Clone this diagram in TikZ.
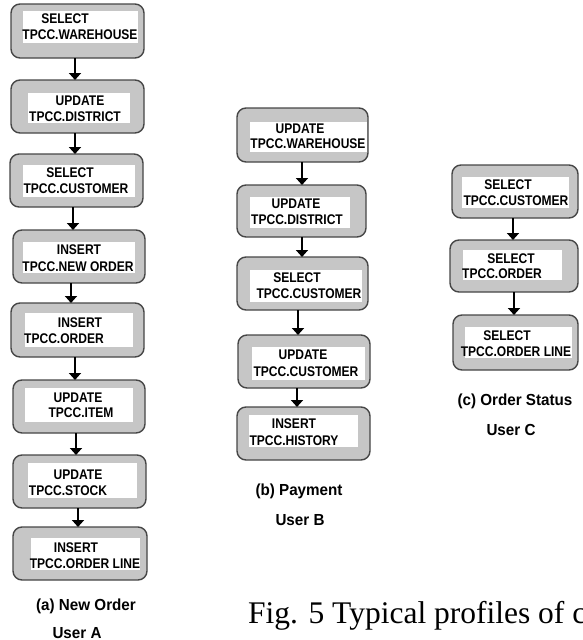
\documentclass[tikz,border=0pt]{standalone}
\usepackage{fontspec}
\usetikzlibrary{arrows.meta}
\newfontfamily\boxfont{Liberation Sans}[FakeStretch=0.86]
\newfontfamily\capfont{Liberation Sans}[FakeStretch=0.95]
\newfontfamily\figfont{Liberation Serif}
\definecolor{boxfill}{RGB}{198,198,198}
\definecolor{boxline}{RGB}{70,70,70}
\newcommand\mkbox[9]{%
  \node[box, minimum width=#4pt, minimum height=#5pt] (#1) at (#2,#3) {};
  \node[win, minimum width=#8pt, minimum height=#9pt] (#1w) at (#6,#7) {};
}
\tikzset{
  box/.style={draw=boxline, fill=boxfill, line width=1.4pt, rounded corners=9pt, inner sep=0pt, outer sep=0pt},
  win/.style={fill=white, inner sep=0pt, outer sep=0pt},
  lbl/.style={font=\boxfont\bfseries\fontsize{14}{16}\selectfont, inner sep=0pt, anchor=base},
  captxt/.style={font=\capfont\bfseries\fontsize{16}{18}\selectfont, inner sep=0pt, anchor=base},
  arr/.style={line width=2pt, -{Triangle[width=12pt,length=7pt]}}
}
\begin{document}
\begin{tikzpicture}[x=1pt,y=-1pt]
\useasboundingbox (0,0) rectangle (582,640);
\clip (0,0) rectangle (582,640);
% ---------- column A ----------
\mkbox{A1}{77.5}{31}{133}{54}{80.5}{27}{115}{32}
\mkbox{A2}{77.5}{106.5}{133}{53}{79}{108}{102}{30}
\mkbox{A3}{76.5}{180.5}{133}{53}{79}{181}{112}{32}
\mkbox{A4}{79}{256.5}{132}{53}{79}{257.5}{112}{31}
\mkbox{A5}{77.5}{330}{133}{54}{79}{330}{108}{34}
\mkbox{A6}{79}{406.5}{132}{53}{79}{405}{108}{34}
\mkbox{A7}{79.5}{481.5}{133}{53}{82.5}{480.5}{109}{35}
\mkbox{A8}{80}{553.5}{134}{53}{85.5}{554}{109}{32}
\node[lbl] (A1a) at (65,23) {SELECT};
\node[lbl] (A1b) at (80,39) {TPCC.WAREHOUSE};
\node[lbl] (A2a) at (80,105) {UPDATE};
\node[lbl] (A2b) at (75,121) {TPCC.DISTRICT};
\node[lbl] (A3a) at (70,177) {SELECT};
\node[lbl] (A3b) at (76,193) {TPCC.CUSTOMER};
\node[lbl] (A4a) at (79,254) {INSERT};
\node[lbl] (A4b) at (78,271) {TPCC.NEW ORDER};
\node[lbl] (A5a) at (80,327) {INSERT};
\node[lbl] (A5b) at (64,343) {TPCC.ORDER};
\node[lbl] (A6a) at (78,402) {UPDATE};
\node[lbl] (A6b) at (81,417) {TPCC.ITEM};
\node[lbl] (A7a) at (78,479) {UPDATE};
\node[lbl] (A7b) at (68,495) {TPCC.STOCK};
\node[lbl] (A8a) at (76,552) {INSERT};
\node[lbl] (A8b) at (85,568) {TPCC.ORDER LINE};
\draw[arr] ([xshift=-2.5pt]A1.south) -- ([xshift=-2.5pt]A1.south |- A2.north);
\draw[arr] ([xshift=-2.5pt]A2.south) -- ([xshift=-2.5pt]A2.south |- A3.north);
\draw[arr] ([xshift=-3.5pt]A3.south) -- ([xshift=-3.5pt]A3.south |- A4.north);
\draw[arr] ([xshift=-8pt]A4.south) -- ([xshift=-8pt]A4.south |- A5.north);
\draw[arr] ([xshift=-2.5pt]A5.south) -- ([xshift=-2.5pt]A5.south |- A6.north);
\draw[arr] ([xshift=-3pt]A6.south) -- ([xshift=-3pt]A6.south |- A7.north);
\draw[arr] ([xshift=-1.5pt]A7.south) -- ([xshift=-1.5pt]A7.south |- A8.north);
\node[captxt] (capA1) at (86,610) {(a) New Order};
\node[captxt] (capA2) at (77,638) {User A};
% ---------- column B ----------
\mkbox{B1}{302.5}{135}{131}{54}{308.5}{137}{117}{30}
\mkbox{B2}{301.5}{211}{129}{52}{300}{212.5}{100}{31}
\mkbox{B3}{302.5}{283.5}{131}{53}{306}{286}{112}{32}
\mkbox{B4}{304}{361.5}{132}{53}{308.5}{363.5}{113}{33}
\mkbox{B5}{303.5}{433.5}{133}{53}{303.5}{431}{109}{32}
\node[lbl] (B1a) at (300,133) {UPDATE};
\node[lbl] (B1b) at (308,148) {TPCC.WAREHOUSE};
\node[lbl] (B2a) at (296,208) {UPDATE};
\node[lbl] (B2b) at (297,224) {TPCC.DISTRICT};
\node[lbl] (B3a) at (297,282) {SELECT};
\node[lbl] (B3b) at (309,298) {TPCC.CUSTOMER};
\node[lbl] (B4a) at (303,359) {UPDATE};
\node[lbl] (B4b) at (306,376) {TPCC.CUSTOMER};
\node[lbl] (B5a) at (294,428) {INSERT};
\node[lbl] (B5b) at (294,445) {TPCC.HISTORY};
\draw[arr] ([xshift=-0.5pt]B1.south) -- ([xshift=-0.5pt]B1.south |- B2.north);
\draw[arr] ([xshift=0.5pt]B2.south) -- ([xshift=0.5pt]B2.south |- B3.north);
\draw[arr] ([xshift=-4.5pt]B3.south) -- ([xshift=-4.5pt]B3.south |- B4.north);
\draw[arr] ([xshift=-7pt]B4.south) -- ([xshift=-7pt]B4.south |- B5.north);
\node[captxt] (capB1) at (299,495) {(b) Payment};
\node[captxt] (capB2) at (300,525) {User B};
% ---------- column C ----------
\mkbox{C1}{515}{191.5}{126}{53}{515.5}{192.5}{107}{31}
\mkbox{C2}{514}{266}{128}{52}{512.5}{265}{99}{30}
\mkbox{C3}{515.5}{342.5}{125}{55}{518.5}{342.5}{107}{31}
\node[lbl] (C1a) at (508,189) {SELECT};
\node[lbl] (C1b) at (516,205) {TPCC.CUSTOMER};
\node[lbl] (C2a) at (511,263) {SELECT};
\node[lbl] (C2b) at (502,278) {TPCC.ORDER};
\node[lbl] (C3a) at (507,340) {SELECT};
\node[lbl] (C3b) at (516,356) {TPCC.ORDER LINE};
\draw[arr] ([xshift=-2pt]C1.south) -- ([xshift=-2pt]C1.south |- C2.north);
\draw[arr] ([xshift=0pt]C2.south) -- ([xshift=0pt]C2.south |- C3.north);
\node[captxt] (capC1) at (515,405) {(c) Order Status};
\node[captxt] (capC2) at (511,435) {User C};
% ---------- figure caption ----------
\node[font=\figfont\fontsize{31.5}{36}\selectfont, inner sep=0pt, anchor=base west] (fig) at (248,623) {Fig. 5 Typical profiles of c};
\end{tikzpicture}
\end{document}
